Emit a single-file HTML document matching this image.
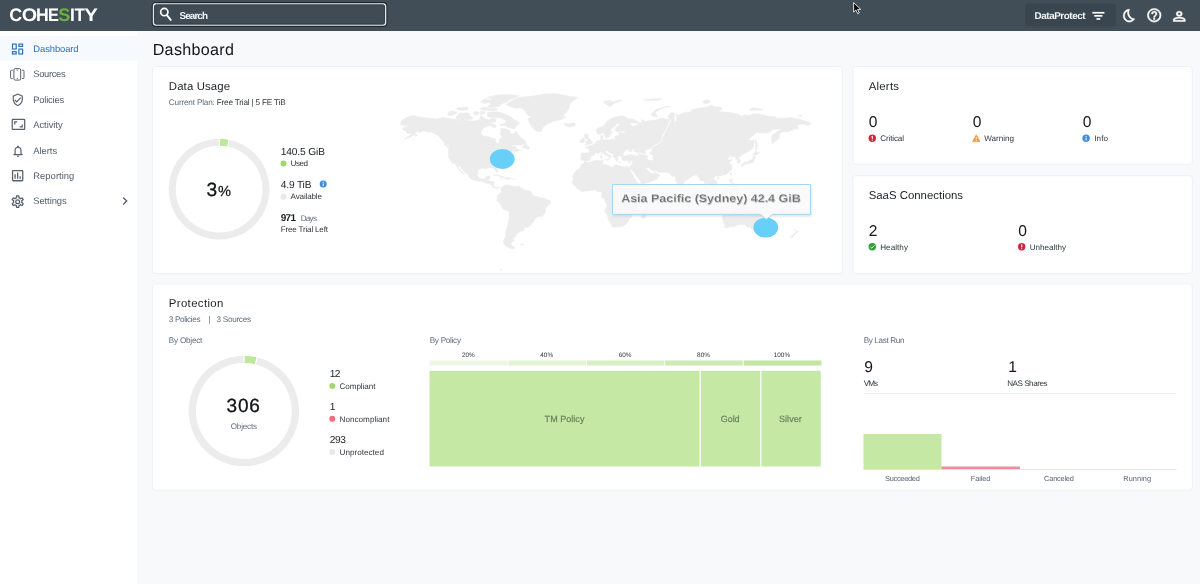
<!DOCTYPE html>
<html>
<head>
<meta charset="utf-8">
<title>Dashboard</title>
<style>
*{box-sizing:border-box;margin:0;padding:0}
html,body{width:1200px;height:584px;overflow:hidden;background:#f8f9fb;font-family:"Liberation Sans",sans-serif;color:#1b1f24;text-rendering:geometricPrecision}
.abs{position:absolute}
svg{position:absolute;overflow:visible}
.t{position:absolute;white-space:nowrap;line-height:1}
#topbar{position:absolute;left:0;top:0;width:1200px;height:30.5px;background:#414e58}
#sidebar{position:absolute;left:0;top:30.500px;width:137.200px;height:554px;background:#fff}
#navsel{position:absolute;left:0;top:36px;width:137.200px;height:24.600px;background:#f6f9fd}
.card{position:absolute;background:#fff;border:1px solid #edeff2;border-radius:3px}
.dot{position:absolute;width:6px;height:6px;border-radius:50%}
</style>
</head>
<body>
<div id="root" style="position:absolute;left:0;top:0;width:1200px;height:584px;will-change:transform">
<!-- ================= TOP BAR ================= -->
<div id="topbar"></div>
<svg style="left:0;top:0" width="1200" height="31" viewBox="0 0 1200 31">
  <!-- logo -->
  <text transform="translate(9.27,20.750) scale(0.985,1)" font-family="Liberation Sans, sans-serif" font-weight="bold" font-size="18.17" fill="#fff">C</text><text transform="translate(21.69,20.750) scale(1.089,1)" font-family="Liberation Sans, sans-serif" font-weight="bold" font-size="18.17" fill="#fff">O</text><text transform="translate(35.92,20.750) scale(0.974,1)" font-family="Liberation Sans, sans-serif" font-weight="bold" font-size="18.17" fill="#fff">H</text><text transform="translate(48.10,20.750) scale(0.902,1)" font-family="Liberation Sans, sans-serif" font-weight="bold" font-size="18.17" fill="#fff">E</text><text transform="translate(58.23,20.750) scale(0.992,1)" font-family="Liberation Sans, sans-serif" font-weight="bold" font-size="18.17" fill="#69b13c">S</text><text transform="translate(70.09,20.750) scale(0.955,1)" font-family="Liberation Sans, sans-serif" font-weight="bold" font-size="18.17" fill="#fff">I</text><text transform="translate(74.41,20.750) scale(0.935,1)" font-family="Liberation Sans, sans-serif" font-weight="bold" font-size="18.17" fill="#fff">T</text><text transform="translate(84.25,20.750) scale(1.120,1)" font-family="Liberation Sans, sans-serif" font-weight="bold" font-size="18.17" fill="#fff">Y</text>
  <!-- search box -->
  <rect x="152.250" y="2.650" width="234.600" height="23.700" rx="3.400" fill="#3f4c56" stroke="#1f282f" stroke-width="1.100"/>
  <rect x="153.500" y="3.800" width="232.100" height="21.400" rx="2.600" fill="none" stroke="#e3e9ed" stroke-width="1.350"/>
  <rect x="154.600" y="4.900" width="229.900" height="19.200" rx="1.800" fill="none" stroke="#2b353d" stroke-width="0.700"/>
  <circle cx="164.300" cy="12.100" r="3.650" fill="none" stroke="#fff" stroke-width="1.700"/>
  <path d="M167.100 15.300 L170.700 19.900" stroke="#fff" stroke-width="1.900" stroke-linecap="round"/>
  <!-- DataProtect button -->
  <rect x="1025" y="3.600" width="91" height="23" rx="3" fill="#3a464f"/>
  <g fill="#fff"><rect x="1092.300" y="11.900" width="12.100" height="1.700"/><rect x="1094.300" y="15" width="8.100" height="1.700"/><rect x="1096.500" y="18.100" width="3.700" height="1.700"/></g>
  <!-- cursor -->
  <path d="M853.600 2.600 L853.600 12 L855.900 10 L857.700 13.700 L859.300 13 L857.600 9.400 L860.800 9.400 Z" fill="#0b0d10" stroke="#e9edf0" stroke-width="0.9" stroke-linejoin="round"/>
</svg>
<!-- moon -->
<svg style="left:1122.600px;top:9.300px" width="12" height="13.400" viewBox="1.500 1.500 19.700 21" preserveAspectRatio="none"><path fill="#fff" stroke="#fff" stroke-width="0.900" stroke-linejoin="round" d="M9.270 4.490c-1.630 7.540 3.750 12.410 7.660 13.800C15.540 19.380 13.810 20 12 20c-4.410 0-8-3.590-8-8 0-3.450 2.200-6.400 5.270-7.510M11.990 2.010C6.400 2.010 2 6.540 2 12c0 5.520 4.480 10 10 10 3.710 0 6.930-2.020 8.660-5.020-7.510-.25-12.090-8.430-8.320-14.970h-.35z"/></svg>
<!-- help -->
<svg style="left:1146.400px;top:7.200px" width="16.500" height="16.500" viewBox="0 0 24 24"><path fill="#fff" stroke="#fff" stroke-width="0.700" d="M11 18h2v-2h-2zm1-16A10 10 0 0 0 2 12a10 10 0 0 0 10 10 10 10 0 0 0 10-10A10 10 0 0 0 12 2m0 18c-4.410 0-8-3.590-8-8s3.590-8 8-8 8 3.590 8 8-3.590 8-8 8m0-14a4 4 0 0 0-4 4h2a2 2 0 0 1 2-2 2 2 0 0 1 2 2c0 2-3 1.750-3 5h2c0-2.250 3-2.500 3-5a4 4 0 0 0-4-4"/></svg>
<!-- user -->
<svg style="left:1173.400px;top:10.600px" width="12.500" height="10.700" viewBox="3.700 3.700 16.600 16.600" preserveAspectRatio="none"><path fill="#fff" stroke="#fff" stroke-width="0.700" d="M12 4a4 4 0 0 1 4 4 4 4 0 0 1-4 4 4 4 0 0 1-4-4 4 4 0 0 1 4-4m0 2a2 2 0 0 0-2 2 2 2 0 0 0 2 2 2 2 0 0 0 2-2 2 2 0 0 0-2-2m0 7c2.670 0 8 1.330 8 4v3H4v-3c0-2.670 5.330-4 8-4m0 1.900c-2.970 0-6.100 1.460-6.100 2.100v1.100h12.200V17c0-.64-3.130-2.100-6.100-2.100"/></svg>

<!-- ================= SIDEBAR ================= -->
<div id="sidebar"></div>
<div id="navsel"></div>
<!-- dashboard icon -->
<svg style="left:0;top:0" width="30" height="60" viewBox="0 0 30 60"><g fill="none" stroke="#2a6db8" stroke-width="1.150"><rect x="12.500" y="44.100" width="3.700" height="4.900"/><rect x="18.900" y="44.100" width="3.700" height="2.300"/><rect x="12.500" y="51.700" width="3.700" height="2.300"/><rect x="18.900" y="49.100" width="3.700" height="4.900"/></g></svg>
<!-- sources icon -->
<svg style="left:10.400px;top:68px" width="14.600" height="12.800" viewBox="0 0 14.600 12.800"><g fill="none" stroke="#56626e" stroke-width="1" stroke-linejoin="round"><rect x="3.900" y="0.600" width="6.800" height="11.500" rx="1.400"/><path d="M2.700 2.200H1.500Q.6 2.200 .6 3.100v6.600q0 .9.900.9h1.200"/><path d="M11.900 2.200h1.200q.9 0 .9.900v6.600q0 .9-.9.900h-1.200"/><path d="M6.500 2.100h1.600" stroke-width="0.800"/></g><circle cx="7.300" cy="10.300" r="0.600" fill="#56626e"/></svg>
<!-- policies icon -->
<svg style="left:11.300px;top:92.600px" width="13.600" height="13.600" viewBox="0 0 24 24"><path fill="#56626e" d="M21 11c0 5.550-3.840 10.740-9 12-5.160-1.260-9-6.450-9-12V5l9-4 9 4zm-9 10c3.750-1 7-5.460 7-9.780V6.300l-7-3.120L5 6.300v4.920C5 15.540 8.250 20 12 21m-2-4-4-4 1.410-1.410L10 14.170l6.590-6.590L18 9"/></svg>
<!-- activity icon -->
<svg style="left:10.800px;top:117.400px" width="14.950" height="14.950" viewBox="0 0 24 24"><path fill="#56626e" d="M19 12h-2v3h-3v2h5zM7 9h3V7H5v5h2zm14-6H3a2 2 0 0 0-2 2v14a2 2 0 0 0 2 2h18a2 2 0 0 0 2-2V5a2 2 0 0 0-2-2m0 16H3V5h18z"/></svg>
<!-- alerts icon -->
<svg style="left:10.850px;top:143.500px" width="14.100" height="14.100" viewBox="0 0 24 24"><path fill="#56626e" d="M12 22c1.100 0 2-.9 2-2h-4c0 1.100.9 2 2 2zm6-6v-5c0-3.070-1.630-5.640-4.500-6.320V4c0-.830-.670-1.500-1.500-1.500s-1.500.670-1.500 1.500v.680C7.640 5.360 6 7.920 6 11v5l-2 2v1h16v-1l-2-2zm-2 1H8v-6c0-2.480 1.510-4.500 4-4.500s4 2.020 4 4.500v6z"/></svg>
<!-- reporting icon -->
<svg style="left:9.900px;top:168.200px" width="15.300" height="15.300" viewBox="0 0 24 24"><path fill="#56626e" d="M9 17H7v-7h2zm4 0h-2V7h2zm4 0h-2v-4h2zm2 2H5V5h14v14.100M19 3H5c-1.100 0-2 .9-2 2v14c0 1.100.9 2 2 2h14c1.100 0 2-.9 2-2V5c0-1.100-.9-2-2-2"/></svg>
<!-- settings icon -->
<svg style="left:10px;top:193.600px" width="15.400" height="15.400" viewBox="0 0 24 24"><path fill="#56626e" d="M12 8a4 4 0 0 1 4 4 4 4 0 0 1-4 4 4 4 0 0 1-4-4 4 4 0 0 1 4-4m0 2a2 2 0 0 0-2 2 2 2 0 0 0 2 2 2 2 0 0 0 2-2 2 2 0 0 0-2-2m-2 12c-.25 0-.46-.18-.5-.42l-.37-2.650c-.63-.25-1.170-.59-1.690-.99l-2.490 1.010c-.22.080-.49 0-.61-.22l-2-3.460a.493.493 0 0 1 .12-.64l2.110-1.660L4.500 12l.070-1-2.110-1.630a.493.493 0 0 1-.12-.64l2-3.460c.12-.22.390-.31.610-.22l2.490 1c.52-.39 1.060-.73 1.690-.98l.37-2.650c.040-.24.250-.42.500-.42h4c.25 0 .46.180.5.420l.37 2.650c.63.250 1.170.590 1.690.980l2.490-1c.22-.09.490 0 .61.220l2 3.460c.13.220.070.490-.12.640L19.430 11l.070 1-.07 1 2.110 1.630c.19.150.25.420.12.640l-2 3.460c-.12.220-.39.310-.61.220l-2.490-1c-.52.390-1.060.730-1.690.980l-.37 2.650c-.4.240-.25.420-.5.420zm1.250-18-.37 2.610c-1.200.25-2.260.89-3.030 1.780L5.440 7.350l-.75 1.300L6.800 10.200a5.550 5.550 0 0 0 0 3.600l-2.120 1.560.75 1.300 2.430-1.040c.77.880 1.820 1.520 3.010 1.760l.37 2.620h1.520l.37-2.610c1.190-.25 2.240-.89 3.010-1.770l2.430 1.040.75-1.300-2.120-1.550c.4-1.170.4-2.440 0-3.610l2.110-1.550-.75-1.300-2.410 1.040a5.420 5.420 0 0 0-3.030-1.770L12.750 4z"/></svg>
<!-- chevron -->
<svg style="left:116.700px;top:193px" width="16" height="16" viewBox="0 0 24 24"><path fill="#56626e" d="M8.590 16.580 13.170 12 8.590 7.410 10 6l6 6-6 6z"/></svg>

<!-- ================= CARDS ================= -->
<svg style="left:0;top:0" width="1200" height="584" viewBox="0 0 1200 584"><g fill="#fff" stroke="#eef0f3" stroke-width="1">
<rect x="152.600" y="66.600" width="689.700" height="206.800" rx="2.500"/>
<rect x="852.700" y="66.600" width="339.600" height="97.600" rx="2.500"/>
<rect x="852.700" y="175.700" width="339.600" height="97.700" rx="2.500"/>
<rect x="152.600" y="283.900" width="1039.700" height="206.300" rx="2.500"/>
</g></svg>

<!-- ================= MAP ================= -->
<svg style="left:0;top:0" width="1200" height="584" viewBox="0 0 1200 584">
<defs><filter id="mb" x="-5%" y="-5%" width="110%" height="110%"><feGaussianBlur stdDeviation="0.35"/></filter><filter id="tb" x="-5%" y="-30%" width="110%" height="160%"><feGaussianBlur stdDeviation="0.7"/></filter><filter id="ts" x="-10%" y="-30%" width="120%" height="170%"><feGaussianBlur stdDeviation="1.2"/></filter></defs>
<g filter="url(#mb)"><path d="M400.1,124.0 401.7,120.2 406.7,117.2 412.7,115.6 419.9,116.9 429.8,118.2 436.4,119.1 444.1,117.2 448.5,118.5 456.2,119.3 459.5,120.3 466.1,120.3 472.7,120.9 479.5,120.3 480.7,114.7 484.2,118.4 488.8,119.9 491.7,118.1 496.3,118.8 495.8,122.0 490.5,123.0 490.0,125.6 484.2,127.7 481.3,131.2 481.0,133.7 483.6,136.0 488.8,136.7 492.3,138.3 495.4,138.6 495.5,141.3 497.5,143.5 499.2,142.9 499.5,139.4 501.9,136.7 499.8,133.5 501.0,131.2 500.4,128.6 505.6,128.7 509.7,130.5 510.2,133.5 513.7,133.8 515.9,131.3 518.9,134.9 520.7,138.0 524.2,140.0 526.2,142.3 524.7,143.4 521.3,144.9 513.7,144.9 510.8,147.0 515.5,146.1 516.0,148.2 520.1,150.3 521.3,149.4 517.2,151.8 514.3,153.0 514.3,151.2 513.1,151.5 509.7,152.9 508.9,154.7 509.7,155.1 505.0,156.3 504.5,157.8 503.3,159.5 502.7,160.5 503.2,162.2 501.0,163.4 498.7,164.7 496.9,166.3 496.6,167.9 498.0,170.8 497.8,172.4 496.7,172.5 495.8,171.0 494.8,169.9 494.0,168.1 492.3,168.3 489.4,167.6 487.1,167.7 487.3,168.8 485.3,168.7 482.1,168.2 480.7,168.7 478.1,170.1 478.1,171.8 477.4,175.1 479.3,178.1 481.3,179.1 484.4,178.7 485.9,176.7 488.8,175.9 490.2,176.3 489.2,179.0 488.5,181.1 491.1,181.2 494.3,182.0 493.8,184.3 493.9,185.8 495.5,187.3 496.9,187.6 498.5,187.0 501.1,187.7 500.5,189.1 499.8,188.1 498.7,187.5 497.6,189.0 495.8,188.2 494.0,188.0 492.3,186.6 491.4,185.6 489.3,183.8 486.5,183.2 483.9,182.5 481.5,180.9 479.0,181.4 475.1,180.4 471.0,179.0 468.8,177.1 469.1,176.0 467.9,174.4 464.6,172.2 463.3,170.5 461.5,169.0 460.6,166.6 458.6,166.0 458.7,167.9 460.9,170.2 462.8,172.3 463.6,173.5 464.4,174.4 463.6,174.2 461.7,172.9 461.4,171.6 459.3,170.6 458.4,170.1 459.4,169.4 457.6,167.7 456.1,165.3 454.7,163.6 452.2,163.0 450.8,160.8 450.1,159.5 448.7,157.6 448.2,156.6 448.3,154.7 448.4,152.4 448.5,149.8 447.7,147.1 449.6,147.2 450.1,148.5 449.8,146.4 447.9,145.1 444.6,143.9 444.1,142.0 441.6,139.6 440.2,138.0 438.0,135.3 435.3,133.9 431.4,132.1 426.5,131.8 423.7,130.8 421.5,131.8 418.2,132.8 418.8,130.5 416.0,132.5 414.9,134.4 411.1,136.7 406.7,138.7 403.9,139.2 406.7,137.4 410.5,134.9 411.6,133.7 408.9,133.5 406.7,133.0 406.7,131.2 403.4,130.2 402.3,128.4 403.9,127.5 407.8,126.6 407.8,125.5 405.0,125.6 401.7,125.3ZM506.2,104.1 512.0,100.7 518.9,97.2 532.8,96.1 544.4,94.0 556.8,93.6 566.7,95.7 577.8,97.4 573.5,100.7 570.2,103.5 569.1,108.0 566.7,112.2 562.9,115.3 566.0,117.3 560.5,119.9 553.1,121.3 547.5,123.9 543.3,127.0 541.0,131.6 538.1,131.6 534.6,130.2 531.7,126.3 528.8,122.0 528.2,118.4 531.1,116.9 527.1,114.5 524.7,110.5 521.3,108.0 514.3,108.0 508.5,105.9ZM501.1,187.7 502.7,187.1 503.3,185.9 504.8,185.5 507.4,184.6 508.2,185.6 509.7,185.0 511.6,186.0 514.3,186.0 516.0,186.4 518.9,185.9 520.1,186.8 521.3,187.9 523.0,189.2 524.7,190.1 527.1,190.2 528.4,190.5 530.8,191.5 532.3,193.9 532.8,195.5 534.9,196.2 537.5,196.6 539.5,197.8 542.7,198.1 545.7,198.6 547.9,199.9 550.4,200.4 550.9,201.9 550.6,203.5 548.1,205.4 546.3,207.2 545.7,209.4 545.4,211.7 544.4,213.6 543.3,215.4 542.1,216.4 539.2,216.6 536.9,217.5 534.8,218.7 534.4,220.7 533.1,222.4 531.1,224.5 530.0,225.8 528.6,227.1 527.1,227.6 524.7,227.3 523.1,227.0 524.5,228.7 524.0,230.6 521.3,231.4 518.7,231.5 518.6,233.3 515.5,233.5 517.0,235.0 515.2,236.0 514.9,237.6 512.6,238.5 514.3,240.0 512.6,242.0 510.8,243.6 511.5,245.1 511.4,246.2 515.2,247.7 513.1,248.8 509.7,248.1 507.4,247.0 505.0,245.5 503.5,243.1 503.3,240.5 504.5,238.5 505.6,236.5 505.3,234.3 505.6,232.0 506.0,229.8 506.8,228.2 507.8,225.8 507.9,223.1 508.5,220.7 509.1,218.6 509.3,216.4 509.4,214.0 509.2,212.0 507.9,211.1 505.6,210.2 503.6,209.3 502.3,207.9 501.3,206.3 500.2,204.4 499.2,202.8 498.2,201.6 496.7,200.9 496.6,199.5 497.7,198.5 498.1,197.7 496.9,197.5 497.2,196.4 498.0,195.4 498.7,194.6 499.5,194.2 499.8,193.3 501.0,193.1 501.3,191.9 501.0,190.6 501.1,189.4 500.5,189.1ZM584.4,161.7 588.6,162.3 590.8,161.7 594.3,160.6 598.9,160.4 602.4,160.0 603.5,160.5 603.0,162.0 602.6,163.4 603.8,164.4 606.1,164.8 608.5,165.5 609.9,166.6 612.8,167.6 614.0,166.9 614.0,165.3 616.3,164.8 619.8,166.0 624.4,167.0 626.7,166.3 628.5,166.6 630.4,166.5 628.5,167.9 629.6,169.9 630.8,171.8 631.9,173.7 633.7,176.0 634.0,178.3 635.4,179.3 636.6,181.6 638.9,183.4 640.9,184.3 641.0,185.2 643.0,186.1 645.9,185.5 650.1,184.7 649.9,186.1 648.8,188.3 647.0,190.6 644.7,192.8 642.4,194.3 640.1,196.2 638.3,197.5 637.2,198.6 636.6,200.0 636.0,201.6 636.6,203.1 637.7,204.9 638.0,208.1 637.2,209.9 634.3,211.5 631.9,213.1 631.1,214.0 631.9,215.9 631.7,217.8 629.0,218.7 628.8,220.2 627.9,222.1 626.1,224.0 623.8,225.7 621.5,226.7 618.6,226.9 614.0,227.5 612.1,227.0 611.7,225.4 610.5,223.1 609.0,220.7 608.0,218.3 607.6,215.9 606.2,213.6 604.5,211.3 604.7,209.4 606.4,206.7 606.8,204.9 606.1,203.4 605.1,200.9 604.5,199.5 602.4,198.0 601.2,196.4 601.8,195.1 602.0,193.4 602.0,192.1 600.7,191.5 598.9,191.6 597.8,191.7 596.0,190.0 593.7,189.9 592.0,190.1 589.7,190.9 587.5,191.0 585.9,190.9 582.7,191.6 580.8,190.9 578.9,189.5 577.2,188.8 576.4,187.5 574.8,185.8 572.9,184.6 572.6,183.4 571.8,182.3 572.9,181.1 573.1,178.8 572.9,177.9 572.4,176.5 573.5,174.2 575.1,171.8 576.7,170.2 578.7,169.1 580.2,168.1 580.3,166.3 581.6,164.4 583.4,163.5ZM647.9,206.3 649.1,209.4 648.2,210.8 647.0,214.0 645.6,217.8 643.5,218.7 641.8,218.3 641.0,215.9 642.1,213.6 641.8,211.3 643.5,209.9 645.9,208.5 647.0,207.3ZM584.7,161.5 584.0,160.6 582.8,160.1 581.2,160.4 581.3,158.7 580.5,158.4 581.3,155.9 580.8,153.6 582.1,152.8 584.8,153.0 587.0,153.1 588.8,153.1 589.5,151.8 589.5,150.0 588.4,148.6 585.9,147.7 585.7,147.0 587.5,146.6 589.1,146.7 588.8,145.5 591.0,145.8 592.5,144.9 593.7,143.7 594.9,143.2 596.0,142.0 596.6,140.9 598.9,140.5 600.7,140.3 600.8,138.0 600.3,136.0 603.0,135.0 602.7,136.7 603.3,138.7 602.4,139.4 603.5,140.0 605.3,139.5 607.3,140.0 609.9,139.4 612.2,139.1 613.7,139.5 615.1,138.4 615.1,136.3 616.9,135.2 618.0,136.0 619.0,135.6 619.1,134.1 618.0,133.0 620.9,132.4 623.3,132.5 625.8,132.0 623.8,131.0 620.9,131.3 617.5,132.0 615.7,131.2 615.5,129.1 615.7,127.5 619.2,125.2 620.1,124.2 619.2,123.7 616.5,123.9 615.5,125.6 612.8,127.5 610.9,129.1 610.7,130.9 612.6,132.1 611.7,133.2 609.9,134.9 609.3,137.1 607.4,138.0 605.8,138.2 605.5,137.0 604.5,135.0 603.8,133.2 603.1,132.1 601.8,133.5 599.5,134.6 597.3,133.5 596.6,131.2 596.6,129.1 598.9,127.7 601.8,126.8 603.5,125.2 605.3,123.4 607.0,121.3 608.8,119.9 611.1,118.4 614.0,117.6 617.5,116.4 620.6,115.9 623.3,116.1 626.7,117.2 625.6,118.1 629.0,118.5 632.5,119.1 637.7,120.9 638.7,122.3 637.2,123.1 632.5,123.0 629.6,122.4 630.8,124.2 631.4,125.9 634.3,126.5 634.8,125.2 637.7,125.5 637.4,123.7 639.5,122.7 641.8,123.0 642.1,120.2 641.0,119.7 644.1,120.3 644.7,122.0 646.4,121.2 652.2,119.9 654.0,120.3 658.0,119.4 660.9,117.9 665.6,118.7 668.5,119.3 670.8,119.9 668.5,117.9 668.2,116.1 670.2,113.3 671.9,112.6 674.8,113.3 674.8,116.1 674.2,119.9 676.0,122.3 676.6,119.9 676.6,113.3 677.7,115.3 681.2,114.1 684.7,112.2 691.1,111.7 691.6,109.7 699.7,108.0 706.7,107.1 711.7,105.0 714.8,106.8 720.6,107.1 722.3,108.8 718.3,111.3 721.8,111.8 727.6,112.2 733.4,113.0 738.0,113.8 740.9,116.1 744.4,115.0 749.6,115.5 753.1,113.8 760.0,114.1 764.6,115.3 768.1,116.3 775.1,116.6 776.8,118.2 782.0,118.2 788.4,117.9 789.0,117.5 794.8,117.9 799.4,119.1 802.9,120.3 808.7,122.0 811.4,123.3 808.1,125.6 804.1,124.2 800.6,124.5 798.3,125.3 796.5,125.3 798.8,128.4 793.6,129.4 788.4,131.8 783.2,131.8 781.8,132.1 779.7,134.6 778.6,137.4 780.1,137.2 778.3,138.7 776.2,141.1 774.5,141.4 772.4,143.9 771.6,141.3 771.3,138.0 772.2,135.3 775.1,133.2 777.4,131.4 780.3,129.4 780.9,128.4 776.2,129.5 772.2,129.8 769.9,132.5 765.8,133.0 762.3,132.8 756.5,132.8 753.1,135.3 750.2,138.0 747.8,139.1 750.2,140.3 753.1,140.0 754.6,141.1 753.6,143.9 753.6,147.0 751.3,149.4 748.4,151.8 744.9,153.8 743.7,153.5 742.3,154.4 741.1,155.9 739.2,157.0 738.6,157.8 740.7,160.4 740.8,162.0 740.3,162.4 738.6,163.0 737.2,163.1 737.4,160.9 737.4,159.6 735.7,159.3 736.0,157.6 734.9,157.0 732.2,156.4 731.3,158.1 732.4,156.6 731.0,156.0 728.7,157.8 727.2,158.5 728.5,159.8 730.7,159.5 732.8,160.1 730.5,161.2 729.1,162.6 730.2,163.9 731.9,165.8 732.0,166.9 732.2,167.9 731.6,169.6 729.9,171.3 728.7,172.5 727.6,173.3 725.8,174.4 723.3,175.1 721.2,175.7 718.9,176.2 718.3,177.1 717.9,176.0 716.3,175.9 714.5,176.7 713.4,178.3 714.2,179.7 716.2,181.1 717.4,183.4 717.4,184.9 715.4,186.1 714.6,186.3 713.1,187.5 712.3,187.8 712.5,186.6 710.8,186.0 709.6,184.7 707.9,184.1 707.3,183.4 706.7,184.7 705.9,186.1 706.7,187.5 707.3,189.1 708.8,189.7 710.2,190.6 710.6,191.9 711.6,193.7 711.3,194.3 710.2,193.9 708.2,192.8 707.2,191.0 707.0,189.9 705.5,188.5 704.7,187.9 705.1,186.6 705.0,184.7 704.4,182.9 704.0,181.6 703.8,180.7 702.1,180.7 700.3,181.1 700.1,179.3 699.2,177.7 697.7,176.5 697.2,175.3 695.7,175.1 694.0,175.7 691.6,176.0 691.4,177.0 689.9,177.7 688.2,179.0 686.2,180.5 684.3,181.3 683.8,182.9 683.9,183.8 683.3,185.2 683.3,186.3 682.4,187.2 681.4,187.6 680.6,188.3 679.5,187.5 678.9,186.1 678.0,184.7 677.1,182.9 676.0,181.1 675.3,178.4 675.1,176.5 674.8,175.8 673.1,176.7 670.8,175.4 671.9,174.8 670.2,174.2 668.7,172.9 667.9,172.4 665.0,172.4 662.1,172.5 658.0,172.2 656.9,171.0 656.1,170.6 654.0,171.2 651.6,170.3 649.9,169.1 648.8,167.7 647.6,167.5 646.4,167.9 646.7,168.9 647.4,170.1 648.8,171.1 649.1,172.3 649.9,171.8 650.6,172.7 650.8,173.5 653.4,173.5 655.7,171.8 656.3,173.2 658.6,174.1 660.1,175.1 658.6,177.0 657.7,178.3 656.3,179.3 654.5,180.2 651.3,181.4 647.6,182.7 643.0,184.0 641.2,184.1 640.4,182.2 640.3,180.7 638.3,178.3 636.2,176.0 634.8,173.7 633.3,171.8 631.4,169.9 631.2,168.4 630.8,169.9 630.4,170.2 629.3,169.4 628.6,167.9 628.2,166.5 630.4,166.5 631.2,165.3 632.1,163.6 632.4,162.0 632.8,160.8 630.8,160.6 629.0,161.4 626.3,160.6 624.4,160.9 622.7,160.4 621.5,158.7 621.9,157.6 621.2,156.8 622.7,156.4 624.4,155.9 626.7,155.6 629.6,154.7 631.4,154.7 633.7,155.6 636.6,155.9 638.9,155.3 638.9,153.9 636.6,152.6 634.3,151.5 633.5,150.9 634.8,149.4 636.3,148.6 633.7,148.8 631.4,149.8 632.9,150.7 631.7,151.2 629.6,151.8 628.6,150.7 629.6,150.0 627.3,149.3 626.4,149.4 625.2,150.9 624.1,152.4 623.3,153.6 623.0,154.7 623.8,155.4 622.7,155.9 621.3,156.4 620.9,156.1 618.6,156.1 618.0,156.8 617.2,156.4 617.2,157.6 618.0,158.7 618.6,159.3 617.5,159.8 617.7,160.9 616.8,160.9 616.0,160.6 615.4,159.5 615.1,158.1 613.7,157.3 613.3,155.9 613.4,154.7 611.7,153.9 609.3,153.0 608.2,151.8 607.3,151.0 606.6,151.1 606.7,150.4 605.1,150.9 605.2,152.2 606.6,153.0 607.3,154.1 609.3,154.8 611.7,156.2 612.2,156.9 610.5,156.4 610.0,157.3 610.6,158.1 609.9,158.9 609.0,159.4 609.3,158.1 608.8,156.9 607.4,156.1 605.6,155.4 604.1,154.1 603.0,153.6 602.4,152.4 601.0,151.9 599.5,152.6 597.8,153.5 596.4,153.1 594.5,153.3 594.5,154.7 593.3,155.4 591.6,156.1 590.6,157.6 591.0,158.5 590.0,159.5 588.8,160.4 588.1,160.7 586.0,160.7ZM722.0,215.4 722.7,219.2 723.2,221.6 724.1,223.5 724.9,224.9 724.1,227.1 725.8,227.7 727.6,227.7 729.9,226.7 733.9,226.7 736.8,225.2 740.3,224.5 742.9,224.5 745.5,225.1 747.3,227.2 748.4,227.7 750.2,225.8 750.5,227.9 751.3,228.2 752.5,228.7 753.6,230.6 757.1,231.4 758.9,230.8 760.5,231.6 762.3,230.5 764.6,230.0 765.2,227.9 766.2,226.3 767.5,224.9 768.1,223.1 768.8,221.3 768.4,219.2 767.9,218.5 765.8,216.8 764.1,215.6 762.9,213.8 760.6,212.7 760.0,211.3 759.3,209.0 758.3,208.3 757.1,206.7 756.1,205.1 755.4,206.3 755.0,208.5 754.2,210.3 753.4,211.4 751.9,211.1 750.2,209.9 748.2,209.0 748.4,207.3 749.4,206.4 747.8,206.3 744.9,205.7 743.6,205.6 742.4,206.7 741.5,207.6 740.9,209.0 739.5,208.8 738.0,207.9 736.6,208.5 735.1,209.9 733.9,211.1 732.4,211.5 732.2,212.7 730.5,213.4 728.1,213.9 726.1,214.1 723.9,215.0ZM758.5,233.2 760.6,233.6 762.7,233.4 762.7,234.7 762.1,235.7 760.6,236.1 759.4,235.3 759.1,234.3ZM794.4,228.9 795.2,229.5 795.8,230.6 796.4,230.5 796.6,231.1 797.6,231.3 798.3,231.2 797.9,232.2 797.3,232.4 797.2,233.1 796.1,233.9 795.8,233.7 796.0,232.8 795.1,232.3 795.6,231.6 795.7,230.8 795.1,230.0ZM794.4,233.2 795.4,233.7 795.2,234.2 794.4,235.3 793.4,235.9 793.1,237.0 792.2,237.6 791.4,237.6 790.3,237.2 790.9,236.3 791.7,235.6 792.9,235.0 793.4,234.2 794.0,233.4ZM742.6,196.2 744.4,195.9 746.1,196.2 746.7,197.7 747.8,198.4 750.2,197.0 751.9,197.3 754.2,197.8 756.5,198.5 758.3,199.0 759.8,199.8 760.9,200.9 762.1,201.1 761.4,201.8 762.6,202.8 764.1,204.1 765.6,204.8 764.1,204.8 761.8,204.4 760.0,203.1 758.3,202.4 757.1,203.1 756.0,203.7 754.2,203.6 752.5,202.7 750.7,203.0 751.6,201.8 750.7,200.4 748.4,199.6 746.1,199.0 744.7,199.1 745.5,198.0 744.0,197.8 742.9,196.8ZM717.1,194.2 717.9,193.7 719.8,193.3 721.8,192.6 722.9,191.4 724.7,190.6 726.1,189.3 727.1,189.8 728.7,190.9 727.6,191.7 727.2,192.8 727.6,193.7 728.6,194.6 727.3,194.8 727.0,196.2 725.8,196.8 725.6,198.2 725.1,198.9 723.6,199.2 721.8,198.4 720.4,198.5 718.5,198.1 718.3,196.8 717.2,195.9 717.1,195.1ZM701.3,190.5 703.8,190.9 705.2,192.1 707.2,193.5 708.7,194.0 710.6,195.1 711.1,196.4 712.0,197.2 713.7,198.2 713.4,200.7 711.9,200.5 710.2,199.5 708.4,198.2 707.0,196.4 705.5,195.1 705.0,193.9 703.2,192.6 701.5,191.2ZM712.7,201.6 714.2,200.9 716.6,201.3 718.9,201.3 719.4,201.3 721.4,201.7 723.5,202.4 723.4,203.2 721.2,203.0 718.3,202.7 716.0,202.5 714.1,202.1ZM729.6,194.8 731.0,194.3 733.4,194.7 735.7,194.1 735.1,195.1 732.8,195.1 730.5,195.5 730.2,196.3 731.6,196.3 733.7,196.3 732.8,197.0 731.7,197.3 732.5,198.4 733.4,199.2 732.8,200.3 731.9,199.7 731.0,198.9 730.3,198.1 730.3,199.8 729.3,200.4 729.2,198.6 728.5,197.9 729.1,196.8 729.6,195.6ZM730.6,178.8 732.4,178.9 732.5,180.2 731.7,181.3 731.9,182.7 733.4,183.0 734.5,183.8 734.3,184.0 732.8,183.2 731.3,183.3 730.7,182.5 730.0,182.0 729.8,180.9 730.3,179.7ZM732.2,189.2 733.7,187.9 735.4,187.5 736.3,186.7 737.3,187.9 737.4,189.1 737.1,189.9 736.3,190.3 736.1,189.4 734.7,190.0 734.5,189.1 733.6,188.8 732.5,189.4ZM732.2,184.9 733.4,185.2 734.5,185.6 735.7,185.5 736.4,185.6 735.9,186.4 734.7,186.6 733.8,187.2 732.9,186.7 732.2,186.1ZM731.6,172.5 732.2,172.9 731.6,174.3 730.9,175.6 730.1,174.8 730.1,173.9 730.9,172.9ZM718.5,177.4 719.4,177.7 718.9,178.6 717.7,179.1 716.8,178.6 716.9,177.9 717.8,177.4ZM683.5,186.7 684.4,187.5 685.6,188.8 685.4,189.8 684.1,190.2 683.4,189.7 683.2,188.3ZM754.8,155.4 755.3,157.0 755.1,158.7 754.2,159.8 754.0,161.5 753.4,162.3 752.7,162.3 751.7,162.9 749.8,163.0 749.4,163.3 748.2,164.2 747.5,163.3 745.5,163.2 744.0,163.8 742.6,163.6 743.0,163.0 744.5,162.1 746.7,161.9 748.4,161.7 749.2,160.6 749.9,159.8 751.3,160.0 752.5,158.9 753.1,157.2 753.1,156.3 754.0,155.6ZM753.4,155.3 754.5,155.0 756.8,154.7 759.2,153.3 759.1,152.2 757.5,152.2 755.4,150.6 754.9,151.8 754.7,153.2 753.6,153.5 752.9,154.1ZM742.5,163.8 743.4,164.1 743.8,164.9 743.1,166.4 742.3,166.9 741.7,166.5 741.8,165.2 741.1,164.7 741.4,164.1ZM744.5,163.6 746.3,163.3 746.9,163.9 746.3,164.4 744.9,164.9 744.3,164.5ZM755.6,139.6 756.5,140.9 756.9,143.2 757.1,145.1 758.3,146.4 756.5,146.6 756.8,148.5 757.1,149.8 756.0,149.2 755.4,150.0 755.4,147.8 755.6,145.8 755.4,143.9 755.0,142.2 755.1,140.8ZM585.2,145.1 587.0,144.8 589.2,144.2 591.4,144.1 592.4,143.6 591.7,143.2 592.8,141.8 591.1,141.4 590.9,140.7 590.3,139.4 589.2,138.7 588.6,137.5 587.3,137.4 588.4,136.3 588.6,135.2 587.0,135.0 586.5,135.2 587.3,133.8 585.4,133.8 584.5,135.2 584.8,136.7 584.3,137.4 585.2,138.3 585.6,139.0 587.0,138.8 587.5,140.1 587.3,140.9 585.9,140.9 586.0,142.1 585.2,142.7 587.0,143.2 587.5,143.6 586.1,143.7 584.6,145.0ZM584.1,138.4 584.7,139.2 584.3,140.7 584.1,142.2 582.7,142.6 581.0,143.1 579.7,142.9 580.3,141.8 580.7,141.1 580.0,139.7 581.6,139.5 581.8,138.6 583.0,138.3ZM563.8,124.0 566.3,122.9 568.7,123.7 571.3,123.1 573.5,122.7 575.0,123.4 576.1,124.6 574.8,125.9 572.4,126.6 570.2,127.2 567.9,126.6 565.8,126.6 566.7,125.5 564.2,125.0 566.4,124.3ZM650.5,115.0 652.8,116.1 655.1,116.6 657.4,116.7 656.3,114.5 655.1,112.5 657.4,111.0 660.3,109.4 663.8,108.0 667.3,106.8 670.5,106.6 667.3,106.3 662.7,107.5 658.0,108.7 655.1,110.2 653.4,112.2 651.6,113.6ZM603.3,101.5 607.0,100.9 610.5,100.7 614.0,101.7 618.6,100.1 622.1,100.5 618.0,102.2 615.1,103.2 612.8,104.5 610.5,106.8 608.2,105.9 606.4,104.5 604.1,103.0ZM702.1,102.2 705.0,100.3 707.9,99.6 710.8,102.1 707.9,103.4 704.4,103.4ZM749.6,109.2 753.1,107.8 757.7,108.5 763.5,109.4 760.0,110.0 754.2,110.5 751.3,110.2ZM797.7,115.8 800.0,115.3 802.1,115.8 800.6,116.4 798.3,116.4ZM605.3,159.3 607.0,159.1 608.9,159.0 608.3,160.4 607.4,160.6 605.4,159.7ZM600.3,156.0 601.6,155.6 602.2,156.7 601.8,157.9 600.7,158.1 600.5,157.0ZM600.9,154.0 601.7,153.6 601.8,154.7 601.3,155.4 600.8,154.8ZM618.2,162.0 619.8,162.1 621.3,162.3 619.8,162.7 618.2,162.3ZM628.2,162.6 629.0,162.2 630.8,161.9 630.2,162.6 629.0,163.0ZM492.4,175.7 494.0,174.7 496.3,174.5 498.7,175.1 501.0,175.8 503.3,176.8 504.8,177.2 503.3,177.5 500.7,177.6 501.3,176.9 499.8,176.5 498.1,175.8 495.8,175.3 494.0,175.5ZM504.6,178.7 505.8,177.6 507.7,177.6 509.7,177.7 511.5,178.7 510.2,179.0 508.5,179.1 507.7,179.5 506.2,179.1ZM500.1,178.9 501.6,178.9 502.5,179.3 501.6,179.5 500.2,179.3ZM512.9,178.8 514.7,178.9 514.5,179.3 512.9,179.3ZM522.1,148.0 523.2,146.4 524.7,144.1 526.4,143.2 526.1,145.1 528.2,145.8 529.4,147.0 529.4,148.8 528.7,149.2 527.1,148.9 525.9,148.2 524.2,148.1ZM443.8,144.2 446.3,144.8 447.9,146.0 449.0,147.1 447.4,146.9 445.7,145.8 444.1,144.9ZM498.1,111.8 502.7,113.3 507.4,115.2 511.4,117.2 513.1,119.1 518.9,122.0 519.5,123.4 517.2,124.9 515.5,127.7 513.7,129.1 512.0,128.2 508.5,127.7 505.6,125.6 501.0,125.9 500.4,124.2 505.0,123.4 506.2,120.6 501.6,118.4 499.2,117.6 495.8,117.6 492.3,117.6 488.2,116.9 487.1,114.5 487.6,112.2 492.3,112.0ZM456.2,116.9 459.5,113.0 463.9,113.3 467.2,112.5 469.4,113.4 469.4,116.1 472.7,117.6 472.1,119.4 468.3,119.6 463.9,119.9 460.6,119.9 457.3,119.1 455.6,117.9ZM447.4,114.5 449.0,111.7 452.9,110.9 457.3,112.5 454.0,114.9 450.7,115.6ZM486.5,107.1 491.1,104.5 488.8,101.7 492.3,98.8 486.5,97.4 498.1,94.7 509.7,94.4 518.9,95.7 515.5,97.8 509.7,99.7 507.4,101.7 502.7,103.5 499.2,106.3 495.8,107.1 491.1,107.6ZM479.5,108.8 484.2,107.0 488.8,108.7 495.8,108.3 498.1,109.7 493.4,110.5 486.5,110.4 483.6,110.2ZM456.2,108.0 460.6,107.5 466.1,107.1 468.8,108.3 467.2,110.0 461.7,110.4 457.3,109.4ZM480.7,101.7 484.2,98.8 490.0,99.7 488.8,102.6 484.2,103.9ZM472.7,113.0 476.1,111.3 479.0,112.2 478.4,114.5 474.9,114.9ZM480.1,111.3 484.2,111.3 485.3,113.3 481.9,114.5 479.9,113.3ZM490.0,124.2 493.4,123.7 496.3,125.9 495.8,127.5 492.9,127.3 490.5,126.3ZM414.9,134.9 417.1,134.6 417.4,135.7 415.5,136.3ZM733.9,204.7 735.7,203.5 738.2,203.0 737.4,203.7 735.1,204.6ZM725.2,203.0 727.6,202.9 729.9,203.0 733.1,202.9 732.8,203.4 729.9,203.5 727.0,203.5 725.2,203.5ZM738.6,193.5 739.7,194.2 740.0,195.2 739.2,196.2 738.7,195.1ZM739.2,198.2 742.4,198.3 741.5,198.7 739.4,198.6ZM762.9,200.4 765.2,200.2 767.2,199.2 767.2,200.0 765.8,200.9 763.5,201.0ZM520.1,244.1 523.6,243.9 523.8,244.6 521.3,245.0ZM511.3,245.4 515.2,247.4 513.7,248.1 509.7,247.9 507.4,246.8 509.1,246.2ZM643.0,99.7 654.5,98.8 662.7,98.8 658.0,100.3 648.8,100.7Z" fill="#ececec" stroke="#ececec" stroke-width="0.5" stroke-linejoin="round"/>
<path d="M648.8,149.1 652.2,149.4 652.2,151.2 649.9,151.8 649.1,153.6 651.6,154.7 653.2,156.1 652.2,157.6 653.2,160.0 651.1,160.6 649.0,160.0 647.6,158.7 647.9,156.7 646.2,154.1 645.0,151.8 645.9,150.4Z" fill="#fff"/>
<path d="M670.5,120.0 669.1,123.0 667.1,127.7 664.2,133.5 662.4,137.4 661.7,140.4 659.2,143.1 655.8,144.8 652.2,147.2 650.5,148.9 M647.0,154.7 644.7,154.7 642.4,153.8 639.5,153.2 637.2,153.0 M628.4,166.6 628.6,168.0 M501.1,187.7 500.5,189.1" fill="none" stroke="#fff" stroke-width="0.9" stroke-linejoin="round"/></g>
<circle cx="501.300" cy="270" r="0.800" fill="#e4e4e4"/>
<ellipse cx="502.2" cy="159" rx="12.4" ry="10" fill="#67cff8"/>
<ellipse cx="765.8" cy="227.6" rx="12.4" ry="10" fill="#67cff8"/>
<g>
<rect x="613.5" y="186.300" width="198" height="30" fill="#889" opacity="0.26" filter="url(#ts)"/>
<path d="M612.500 184.500 H810.500 V214.300 H772.600 L766.300 219.400 L760.200 214.300 H612.500 Z" fill="#fff" fill-opacity="0.84" stroke="#a3d8f2" stroke-width="1"/>
<text x="621.700" y="203" font-family="Liberation Sans, sans-serif" font-size="11" font-weight="bold" fill="#777" fill-opacity="0.35" textLength="179.500" lengthAdjust="spacingAndGlyphs" filter="url(#tb)">Asia Pacific (Sydney) 42.4 GiB</text>
<text x="621.200" y="202.200" font-family="Liberation Sans, sans-serif" font-size="11" font-weight="bold" fill="#64686c" fill-opacity="0.93" stroke="#fff" stroke-width="0.300" stroke-opacity="0.45" textLength="179.500" lengthAdjust="spacingAndGlyphs">Asia Pacific (Sydney) 42.4 GiB</text>
</g>
</svg>

<!-- ================= GRAPHICS ================= -->
<svg style="left:0;top:0" width="1200" height="584" viewBox="0 0 1200 584">
  <!-- donut 1 -->
  <path d="M228.84 143.32 A46.85 46.85 0 1 1 218.85 142.30" fill="none" stroke="#ececec" stroke-width="7"/>
  <path d="M219.92 142.31 A46.85 46.85 0 0 1 227.88 143.13" fill="none" stroke="#bfe79c" stroke-width="7"/>
  <!-- donut 2 -->
  <path d="M256.73 361.02 A51.6 51.6 0 1 1 243.63 359.40" fill="none" stroke="#ececec" stroke-width="7.300"/>
  <path d="M244.71 359.41 A51.6 51.6 0 0 1 255.68 360.76" fill="none" stroke="#bfe79c" stroke-width="7.300"/>
  <!-- info icon next to 4.9 TiB -->
  <circle cx="323.200" cy="184" r="3.500" fill="#3d8fdd"/>
  <rect x="322.700" y="183.400" width="1" height="2.600" fill="#fff"/><rect x="322.700" y="181.800" width="1" height="1" fill="#fff"/>
  <!-- alert icons -->
  <circle cx="872.300" cy="138.200" r="3.700" fill="#d9203b"/>
  <rect x="871.750" y="135.800" width="1.100" height="3.100" rx="0.400" fill="#fff"/><rect x="871.750" y="139.600" width="1.100" height="1.100" rx="0.400" fill="#fff"/>
  <path d="M976.250 134.800 L980 141.600 L972.500 141.600 Z" fill="#f2973c" stroke="#f2973c" stroke-width="0.600" stroke-linejoin="round"/>
  <rect x="975.800" y="137" width="0.900" height="2.400" fill="#fff"/><rect x="975.800" y="140" width="0.900" height="0.900" fill="#fff"/>
  <circle cx="1086.100" cy="138.200" r="3.700" fill="#3d8fdd"/>
  <rect x="1085.600" y="137.600" width="1" height="2.800" fill="#fff"/><rect x="1085.600" y="135.900" width="1" height="1" fill="#fff"/>
  <!-- saas icons -->
  <circle cx="872.300" cy="246.700" r="3.700" fill="#2e9e3a"/>
  <path d="M870.400 246.800 L871.800 248.200 L874.300 245.400" fill="none" stroke="#fff" stroke-width="0.950"/>
  <circle cx="1021.700" cy="246.700" r="3.700" fill="#d9203b"/>
  <rect x="1021.150" y="244.300" width="1.100" height="3.100" rx="0.400" fill="#fff"/><rect x="1021.150" y="248.100" width="1.100" height="1.100" rx="0.400" fill="#fff"/>
  <!-- legend dots -->
  <circle cx="283.500" cy="163.500" r="3" fill="#9fd872"/>
  <circle cx="283.500" cy="196.700" r="3" fill="#e9e9e9"/>
  <circle cx="332.300" cy="386" r="3" fill="#9fd872"/>
  <circle cx="332.300" cy="418.700" r="3" fill="#ee6e80"/>
  <circle cx="332.300" cy="452" r="3" fill="#e9e9e9"/>
  <!-- by policy legend scale -->
  <rect x="429.500" y="360.500" width="78" height="5" fill="#eef7e5"/>
  <rect x="508.400" y="360.500" width="77.500" height="5" fill="#e3f3d4"/>
  <rect x="586.800" y="360.500" width="77.500" height="5" fill="#d8eec3"/>
  <rect x="665.200" y="360.500" width="77.500" height="5" fill="#cdeab2"/>
  <rect x="743.600" y="360.500" width="77.900" height="5" fill="#c3e6a2"/>
  <!-- treemap -->
  <rect x="429.500" y="370.800" width="270" height="95.700" fill="#c5e8a4"/>
  <rect x="700.900" y="370.800" width="59.300" height="95.700" fill="#c5e8a4"/>
  <rect x="761.500" y="370.800" width="59.200" height="95.700" fill="#c5e8a4"/>
  <!-- last run -->
  <rect x="863.500" y="393.200" width="313" height="0.800" fill="#ececee"/>
  <rect x="863.500" y="434" width="78" height="35.200" fill="#c5e8a4"/>
  <rect x="941.500" y="466.500" width="78.500" height="2.700" fill="#ee8f9c"/>
  <rect x="863.500" y="469.100" width="313" height="0.800" fill="#dcdcec"/>
</svg>

<!-- ================= TEXT ================= -->
<div class="t" style="left:179.60px;top:11px;line-height:11px;font-size:9.9px;color:#f1f4f6;font-weight:bold;letter-spacing:-0.911px;">Search</div>
<div class="t" style="left:1034.60px;top:11px;line-height:11px;font-size:9.9px;color:#f2f4f6;font-weight:bold;letter-spacing:-0.444px;">DataProtect</div>
<div class="t" style="left:33.30px;top:43px;line-height:11px;font-size:9.4px;color:#2a6db8;letter-spacing:-0.072px;">Dashboard</div>
<div class="t" style="left:33.30px;top:68px;line-height:11px;font-size:9.4px;color:#525e6a;letter-spacing:-0.351px;">Sources</div>
<div class="t" style="left:33.30px;top:94px;line-height:11px;font-size:9.4px;color:#525e6a;letter-spacing:-0.216px;">Policies</div>
<div class="t" style="left:33.30px;top:119px;line-height:11px;font-size:9.4px;color:#525e6a;letter-spacing:-0.058px;">Activity</div>
<div class="t" style="left:33.30px;top:145px;line-height:11px;font-size:9.4px;color:#525e6a;letter-spacing:-0.034px;">Alerts</div>
<div class="t" style="left:33.30px;top:170px;line-height:11px;font-size:9.4px;color:#525e6a;letter-spacing:0.043px;">Reporting</div>
<div class="t" style="left:33.30px;top:195px;line-height:11px;font-size:9.4px;color:#525e6a;letter-spacing:-0.082px;">Settings</div>
<div class="t" style="left:152.70px;top:41px;line-height:18px;font-size:16.1px;color:#14171b;letter-spacing:0.308px;">Dashboard</div>
<div class="t" style="left:168.80px;top:81px;line-height:12px;font-size:11.4px;color:#1a1e23;letter-spacing:0.127px;">Data Usage</div>
<div class="t" style="left:168.80px;top:98px;line-height:9px;font-size:8.2px;color:#2f373f;letter-spacing:-0.187px;"><span style="color:#5f6c7a">Current Plan:</span> Free Trial | 5 FE TiB</div>
<div class="t" style="left:206.60px;top:180px;line-height:21px;font-size:19.2px;color:#101316;-webkit-text-stroke:0.3px #101316;">3</div>
<div class="t" style="left:218.00px;top:184px;line-height:16px;font-size:14.6px;color:#101316;-webkit-text-stroke:0.25px #101316;">%</div>
<div class="t" style="left:280.70px;top:147px;line-height:11px;font-size:10.2px;color:#1a1e23;letter-spacing:-0.127px;">140.5 GiB</div>
<div class="t" style="left:290.60px;top:159px;line-height:9px;font-size:8.1px;color:#2f373f;letter-spacing:-0.502px;">Used</div>
<div class="t" style="left:280.70px;top:180px;line-height:11px;font-size:10.2px;color:#1a1e23;letter-spacing:-0.153px;">4.9 TiB</div>
<div class="t" style="left:290.60px;top:192px;line-height:9px;font-size:8.1px;color:#2f373f;letter-spacing:-0.163px;">Available</div>
<div class="t" style="left:280.70px;top:213px;line-height:11px;font-size:10.0px;color:#1a1e23;font-weight:bold;letter-spacing:-0.644px;">971</div>
<div class="t" style="left:300.70px;top:214px;line-height:9px;font-size:8.1px;color:#5f6c7a;letter-spacing:-0.718px;">Days</div>
<div class="t" style="left:280.70px;top:225px;line-height:9px;font-size:8.1px;color:#2f373f;letter-spacing:-0.188px;">Free Trial Left</div>
<div class="t" style="left:868.70px;top:81px;line-height:12px;font-size:11.4px;color:#1a1e23;letter-spacing:0.235px;">Alerts</div>
<div class="t" style="left:868.80px;top:114px;line-height:17px;font-size:15.6px;color:#14171b;">0</div>
<div class="t" style="left:972.80px;top:114px;line-height:17px;font-size:15.6px;color:#14171b;">0</div>
<div class="t" style="left:1082.80px;top:114px;line-height:17px;font-size:15.6px;color:#14171b;">0</div>
<div class="t" style="left:880.20px;top:134px;line-height:9px;font-size:8.1px;color:#2f373f;letter-spacing:-0.133px;">Critical</div>
<div class="t" style="left:984.20px;top:134px;line-height:9px;font-size:8.1px;color:#2f373f;letter-spacing:-0.007px;">Warning</div>
<div class="t" style="left:1094.20px;top:134px;line-height:9px;font-size:8.1px;color:#2f373f;letter-spacing:0.095px;">Info</div>
<div class="t" style="left:868.70px;top:190px;line-height:12px;font-size:11.4px;color:#1a1e23;">SaaS Connections</div>
<div class="t" style="left:868.80px;top:223px;line-height:17px;font-size:15.6px;color:#14171b;">2</div>
<div class="t" style="left:1018.30px;top:223px;line-height:17px;font-size:15.6px;color:#14171b;">0</div>
<div class="t" style="left:880.20px;top:243px;line-height:9px;font-size:8.1px;color:#2f373f;letter-spacing:0.058px;">Healthy</div>
<div class="t" style="left:1029.70px;top:243px;line-height:9px;font-size:8.1px;color:#2f373f;letter-spacing:-0.019px;">Unhealthy</div>
<div class="t" style="left:168.80px;top:298px;line-height:12px;font-size:11.4px;color:#1a1e23;letter-spacing:0.367px;">Protection</div>
<div class="t" style="left:168.80px;top:315px;line-height:9px;font-size:8.2px;color:#5f6c7a;letter-spacing:-0.361px;">3 Policies</div>
<div class="t" style="left:208.20px;top:315px;line-height:9px;font-size:8.2px;color:#5f6c7a;">|</div>
<div class="t" style="left:216.60px;top:315px;line-height:9px;font-size:8.2px;color:#5f6c7a;letter-spacing:-0.309px;">3 Sources</div>
<div class="t" style="left:168.80px;top:336px;line-height:9px;font-size:8.2px;color:#5f6c7a;letter-spacing:-0.237px;">By Object</div>
<div class="t" style="left:226.60px;top:396px;line-height:21px;font-size:19.0px;color:#101316;letter-spacing:0.798px;-webkit-text-stroke:0.3px #101316;">306</div>
<div class="t" style="left:230.75px;top:422px;line-height:9px;font-size:8.1px;color:#5f6c7a;letter-spacing:-0.192px;">Objects</div>
<div class="t" style="left:329.70px;top:369px;line-height:11px;font-size:10.2px;color:#1a1e23;letter-spacing:-0.544px;">12</div>
<div class="t" style="left:339.60px;top:382px;line-height:9px;font-size:8.1px;color:#2f373f;letter-spacing:-0.082px;">Compliant</div>
<div class="t" style="left:329.70px;top:402px;line-height:11px;font-size:10.2px;color:#1a1e23;">1</div>
<div class="t" style="left:339.60px;top:415px;line-height:9px;font-size:8.1px;color:#2f373f;letter-spacing:0.027px;">Noncompliant</div>
<div class="t" style="left:329.70px;top:435px;line-height:11px;font-size:10.2px;color:#1a1e23;letter-spacing:-0.350px;">293</div>
<div class="t" style="left:339.60px;top:448px;line-height:9px;font-size:8.1px;color:#2f373f;letter-spacing:0.021px;">Unprotected</div>
<div class="t" style="left:429.70px;top:336px;line-height:9px;font-size:8.2px;color:#5f6c7a;letter-spacing:-0.296px;">By Policy</div>
<div class="t" style="left:461.90px;top:352px;line-height:7px;font-size:6.4px;color:#2f373f;">20%</div>
<div class="t" style="left:540.30px;top:352px;line-height:7px;font-size:6.4px;color:#2f373f;">40%</div>
<div class="t" style="left:618.70px;top:352px;line-height:7px;font-size:6.4px;color:#2f373f;">60%</div>
<div class="t" style="left:697.10px;top:352px;line-height:7px;font-size:6.4px;color:#2f373f;">80%</div>
<div class="t" style="left:773.72px;top:352px;line-height:7px;font-size:6.4px;color:#2f373f;">100%</div>
<div class="t" style="left:544.60px;top:414px;line-height:10px;font-size:9.0px;color:rgba(72,92,72,0.66);letter-spacing:0.036px;-webkit-text-stroke:0.3px rgba(72,92,72,0.5);">TM Policy</div>
<div class="t" style="left:720.80px;top:414px;line-height:10px;font-size:9.0px;color:rgba(72,92,72,0.66);letter-spacing:-0.072px;-webkit-text-stroke:0.3px rgba(72,92,72,0.5);">Gold</div>
<div class="t" style="left:779.00px;top:414px;line-height:10px;font-size:9.0px;color:rgba(72,92,72,0.66);letter-spacing:0.057px;-webkit-text-stroke:0.3px rgba(72,92,72,0.5);">Silver</div>
<div class="t" style="left:863.70px;top:336px;line-height:9px;font-size:8.2px;color:#5f6c7a;letter-spacing:-0.381px;">By Last Run</div>
<div class="t" style="left:864.20px;top:359px;line-height:17px;font-size:15.6px;color:#14171b;">9</div>
<div class="t" style="left:1008.20px;top:359px;line-height:17px;font-size:15.6px;color:#14171b;">1</div>
<div class="t" style="left:863.70px;top:379px;line-height:9px;font-size:8.1px;color:#2f373f;letter-spacing:-0.944px;">VMs</div>
<div class="t" style="left:1007.20px;top:379px;line-height:9px;font-size:8.1px;color:#2f373f;letter-spacing:-0.472px;">NAS Shares</div>
<div class="t" style="left:885.00px;top:474px;line-height:9px;font-size:7.4px;color:#566371;letter-spacing:-0.273px;">Succeeded</div>
<div class="t" style="left:970.70px;top:474px;line-height:9px;font-size:7.4px;color:#566371;letter-spacing:-0.068px;">Failed</div>
<div class="t" style="left:1044.10px;top:474px;line-height:9px;font-size:7.4px;color:#566371;letter-spacing:-0.205px;">Canceled</div>
<div class="t" style="left:1123.30px;top:474px;line-height:9px;font-size:7.4px;color:#566371;letter-spacing:0.045px;">Running</div>
</div>
</body>
</html>
